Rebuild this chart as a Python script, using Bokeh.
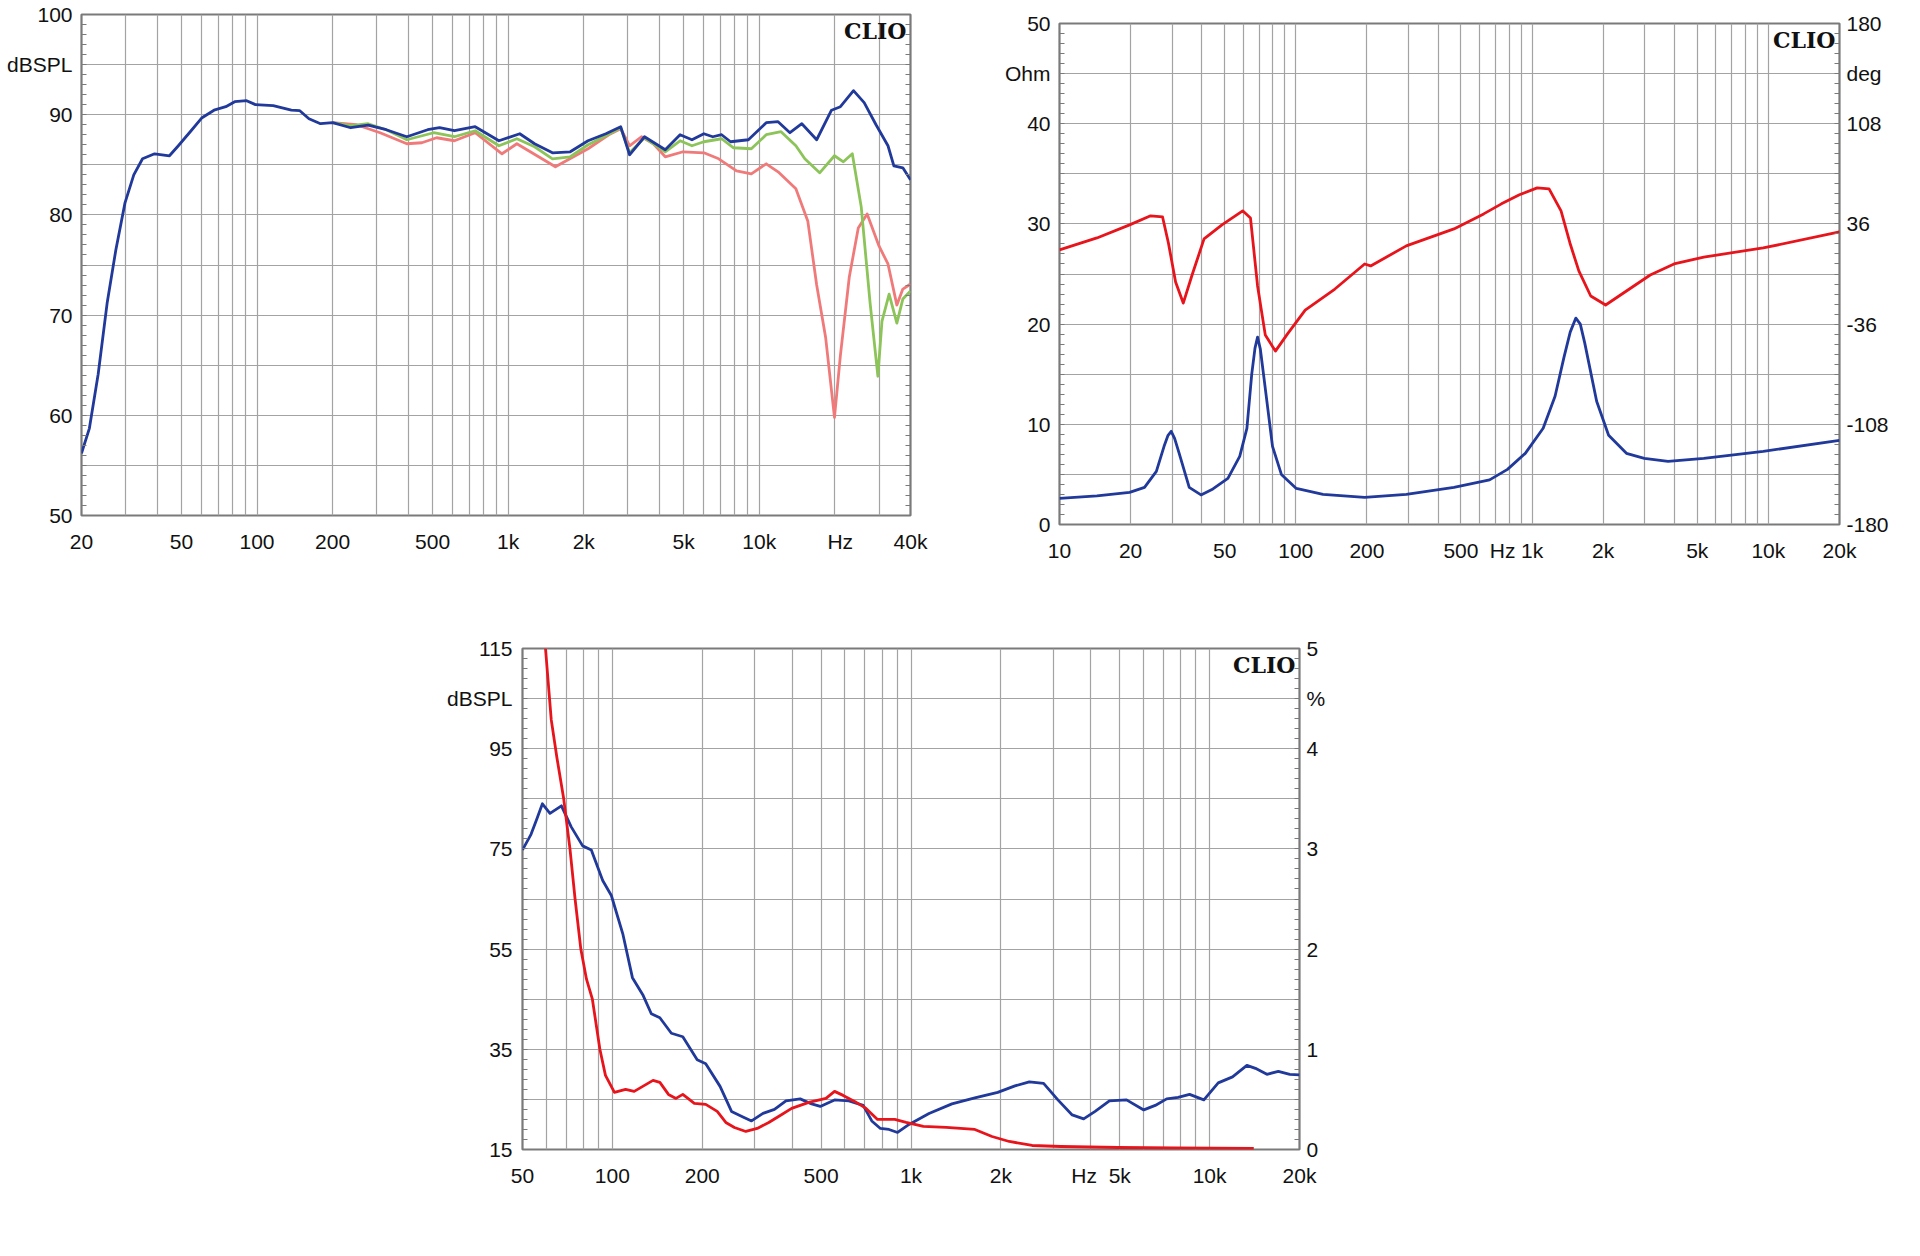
from bokeh.plotting import figure
from bokeh.models import FixedTicker, LinearAxis, Range1d, Label, Spacer
from bokeh.layouts import row, column
from bokeh.embed import file_html
from bokeh.resources import INLINE

# ---------------- data: chart 1 (frequency response, dBSPL) ----------------
f1_blue = [20, 21.5, 23.3, 25.3, 27.4, 29.8, 32.3, 35.0, 39.1, 44.8,
           48.6, 54.2, 60.4, 67.4, 75.1, 81.5, 90.9, 98.6, 116, 137,
           148, 161, 179, 200, 236, 277, 327, 395, 478, 533,
           611, 739, 919, 1112, 1274, 1501, 1767, 2080, 2449, 2806,
           3044, 3490, 4222, 4836, 5394, 6016, 6526, 7080, 7684, 9048,
           10654, 11878, 13244, 14770, 16922, 19388, 21040, 23720, 26160, 29160,
           32540, 34340, 37280, 40000]
spl1_blue = [56.2, 58.7, 64.1, 71.2, 76.5, 81.2, 84.0, 85.6, 86.1, 85.9,
             86.9, 88.3, 89.7, 90.45, 90.8, 91.3, 91.4, 91.0, 90.9, 90.45,
             90.4, 89.6, 89.1, 89.2, 88.7, 88.95, 88.5, 87.8, 88.5, 88.7,
             88.4, 88.8, 87.4, 88.1, 87.1, 86.2, 86.3, 87.4, 88.1, 88.8,
             86.0, 87.8, 86.5, 88.0, 87.5, 88.1, 87.8, 88.0, 87.3, 87.5,
             89.2, 89.3, 88.2, 89.1, 87.5, 90.45, 90.8, 92.4, 91.2, 89.0,
             86.9, 84.9, 84.7, 83.5]

f1_green = [200, 236, 277, 327, 395, 505, 611, 739, 919, 1083,
            1274, 1501, 1767, 2080, 2449, 2806, 3044, 3490, 4222, 4836,
            5394, 6016, 7080, 7896, 9296, 10654, 12206, 13984, 15178, 17390,
            19922, 21620, 23460, 25460, 27620, 29660, 30800, 32880, 35300, 37280,
            40000]
spl1_green = [89.2, 88.9, 89.1, 88.5, 87.5, 88.2, 87.8, 88.4, 86.9, 87.6,
              86.8, 85.6, 85.8, 87.0, 87.9, 88.7, 86.2, 87.7, 86.3, 87.4,
              86.9, 87.3, 87.6, 86.7, 86.6, 88.0, 88.3, 86.9, 85.6, 84.2,
              85.9, 85.3, 86.1, 80.8, 71.2, 63.9, 69.4, 72.1, 69.2, 71.6,
              72.4]

f1_red = [200, 249, 309, 395, 453, 519, 611, 739, 945, 1083,
          1542, 2080, 2516, 2806, 3044, 3394, 3786, 4222, 4970, 6016,
          6890, 8116, 9296, 10654, 11878, 13984, 15596, 16922, 18364, 19922,
          21040, 22820, 24780, 26880, 29960, 32540, 35300, 37280, 40000]
spl1_red = [89.2, 89.0, 88.2, 87.1, 87.2, 87.7, 87.4, 88.2, 86.1, 87.1,
            84.8, 86.6, 88.0, 88.6, 86.9, 87.8, 87.1, 85.8, 86.3, 86.2,
            85.6, 84.4, 84.1, 85.1, 84.3, 82.6, 79.4, 73.0, 67.8, 59.8,
            66.0, 73.8, 78.7, 80.1, 76.9, 75.1, 71.0, 72.6, 73.1]

x1_ticks = [20, 50, 100, 200, 500, 1000, 2000, 5000, 10000, 21000, 40000]
x1_labels = ["20", "50", "100", "200", "500", "1k", "2k", "5k", "10k", "Hz", "40k"]
y1_ticks = [50, 60, 70, 80, 90, 95, 100]
y1_labels = ["50", "60", "70", "80", "90", "dBSPL", "100"]

# ---------------- data: chart 2 (impedance, Ohm / deg) ----------------
f2_mod = [10, 14.4, 19.8, 22.9, 25.7, 27.7, 28.8, 29.7, 30.7, 32.1, 35.4, 39.7,
          44.6, 51.6, 57.9, 62.1, 65.1, 67.2, 68.9, 70.8, 73.0, 79.7, 86.9, 100.5,
          130.4, 195.6, 293.6, 467, 661, 787, 936, 1114, 1251, 1365, 1450,
          1532, 1600, 1671, 1876, 2108, 2508, 2985, 3763, 5329, 9513, 20000]
ohm2_mod = [2.6, 2.85, 3.2, 3.7, 5.3, 7.8, 8.9, 9.3, 8.6, 7.1, 3.7, 2.95,
            3.55, 4.6, 6.8, 9.6, 15.0, 17.6, 18.7, 17.5, 15.0, 7.8, 5.0, 3.6,
            3.0, 2.7, 3.0, 3.7, 4.45, 5.5, 7.1, 9.6, 12.8, 16.7, 19.2,
            20.6, 20.0, 18.1, 12.3, 8.9, 7.1, 6.6, 6.3, 6.6, 7.3, 8.4]

f2_phase = [10, 14.4, 19.8, 24.3, 27.3, 28.9, 31.0, 33.4, 36.4, 40.9,
            48.7, 59.6, 64.3, 68.9, 74.3, 82.0, 92.1, 109.6, 146.4, 195.6,
            207.4, 293.6, 467, 624, 742, 884, 1051, 1180, 1326, 1446,
            1577, 1771, 2048, 2508, 3162, 3988, 5329, 9513, 20000]
deg2_phase = [17.3, 25.9, 35.3, 41.8, 41.0, 22.3, -5.8, -20.9, -0.7, 25.2,
              35.3, 45.4, 40.3, -8.6, -43.9, -55.4, -43.2, -25.9, -10.8, 7.2,
              5.8, 20.2, 32.4, 43.2, 50.4, 56.9, 61.9, 61.2, 45.4, 22.3,
              2.2, -15.8, -22.3, -12.2, -0.7, 7.2, 12.2, 18.7, 30.2]

x2_ticks = [10, 20, 50, 100, 200, 500, 750, 1000, 2000, 5000, 10000, 20000]
x2_labels = ["10", "20", "50", "100", "200", "500", "Hz", "1k", "2k", "5k", "10k", "20k"]
y2_ticks = [0, 10, 20, 30, 40, 45, 50]
y2_labels = ["0", "10", "20", "30", "40", "Ohm", "50"]
y2r_ticks = [-180, -108, -36, 36, 108, 144, 180]
y2r_labels = ["-180", "-108", "-36", "36", "108", "deg", "180"]

# ---------------- data: chart 3 (distortion, dBSPL / %) ----------------
f3_blue = [50, 53.4, 55.8, 58.3, 61.8, 67.5, 72.8, 79.5, 85.0, 92.8,
           99.2, 108.3, 116.7, 126.4, 135.0, 144.2, 157.6, 172.1, 192.3, 205.4,
           229.4, 250.6, 273.7, 292.4, 319.4, 349, 381.2, 425.6, 464.9, 496.7,
           554.6, 619.4, 691.7, 739, 789.8, 843.8, 901.6, 985, 1149, 1371,
           1636, 1952, 2229, 2490, 2780, 3104, 3466, 3786, 4136, 4618,
           5270, 6019, 6575, 7182, 7844, 8568, 9568, 10687, 11935, 13330,
           14238, 15553, 16989, 18559, 20000]
spl3_blue = [74.8, 77.9, 80.9, 84.0, 82.1, 83.6, 79.4, 75.6, 74.8, 68.7,
             65.7, 58.1, 49.3, 45.9, 42.1, 41.3, 38.2, 37.5, 32.9, 32.1,
             27.6, 22.6, 21.5, 20.7, 22.2, 23.0, 24.7, 25.1, 24.1, 23.6,
             24.9, 24.7, 23.8, 20.7, 19.2, 19.0, 18.4, 20.0, 22.2, 24.1,
             25.3, 26.4, 27.7, 28.5, 28.2, 24.9, 21.9, 21.1, 22.6, 24.7,
             24.9, 22.9, 23.8, 25.1, 25.4, 26.0, 24.9, 28.3, 29.5, 31.8,
             31.2, 30.0, 30.6, 30.0, 29.9]

f3_red = [59.7, 62.4, 65.2, 68.7, 72.1, 75.0, 78.4, 81.9, 85.7, 90.8,
          94.8, 101.6, 110.7, 118.3, 126.4, 136.8, 144.2, 154.1, 163.3, 172.1,
          188.1, 205.4, 224.4, 239.8, 256.2, 279.8, 305.6, 333.9, 364.7, 398.4,
          454.7, 519, 554.6, 592.6, 647.4, 707.1, 772.5, 882, 963.3, 1100,
          1312, 1636, 1868, 2133, 2545, 3173, 4934, 7673, 14055]
pct3_red = [5.0, 4.29, 3.91, 3.5, 3.0, 2.5, 2.0, 1.70, 1.5, 1.0,
            0.74, 0.57, 0.60, 0.58, 0.63, 0.69, 0.67, 0.55, 0.51, 0.55,
            0.46, 0.45, 0.38, 0.27, 0.22, 0.18, 0.21, 0.27, 0.34, 0.41,
            0.47, 0.51, 0.58, 0.54, 0.48, 0.41, 0.30, 0.30, 0.27, 0.23,
            0.22, 0.20, 0.13, 0.08, 0.04, 0.03, 0.02, 0.015, 0.01]

x3_ticks = [50, 100, 200, 500, 1000, 2000, 3800, 5000, 10000, 20000]
x3_labels = ["50", "100", "200", "500", "1k", "2k", "Hz", "5k", "10k", "20k"]
y3_ticks = [15, 35, 55, 75, 95, 105, 115]
y3_labels = ["15", "35", "55", "75", "95", "dBSPL", "115"]
y3r_ticks = [0, 1, 2, 3, 4, 4.5, 5]
y3r_labels = ["0", "1", "2", "3", "4", "%", "5"]

# ---------------- styling ----------------
FONT = "Liberation Sans"
FS = "21px"
TXT = "#111111"
GRID = "#a3a3a3"
FRAME = "#7a7a7a"
BLUE = "#20399a"
RED = "#e8141c"
RED_LIGHT = "#f07a7a"
GREEN = "#8cc45a"
LW = 2.8


def log_lines(lo, hi):
    out = []
    d = 1
    while d <= hi:
        for m in range(1, 10):
            v = m * d
            if lo <= v <= hi:
                out.append(v)
        d *= 10
    return out


def steps(lo, hi, st):
    out = []
    v = lo
    while v <= hi + 1e-9:
        out.append(round(v, 4))
        v += st
    return out


def style_axis(ax, standoff):
    ax.axis_line_color = None
    ax.major_tick_line_color = None
    ax.major_tick_in = 0
    ax.major_tick_out = 0
    ax.minor_tick_line_color = FRAME
    ax.minor_tick_line_width = 1
    ax.minor_tick_in = 5
    ax.minor_tick_out = 0
    ax.major_label_text_font = FONT
    ax.major_label_text_font_size = FS
    ax.major_label_text_color = TXT
    ax.major_label_standoff = standoff


def make_fig(xr, yr, fw, fh, L, R, T, B, xt, xl, yt, yl, ygrid_step, yminor, xstand, ystand):
    p = figure(x_axis_type="log", x_range=Range1d(*xr), y_range=Range1d(*yr),
               frame_width=fw, frame_height=fh,
               min_border_left=L, min_border_right=R, min_border_top=T, min_border_bottom=B,
               output_backend="svg", toolbar_location=None)
    p.background_fill_color = "white"
    p.border_fill_color = "white"
    p.outline_line_color = FRAME
    p.outline_line_width = 2.2

    xa = p.xaxis[0]
    xa.ticker = FixedTicker(ticks=xt)
    xa.major_label_overrides = {t: s for t, s in zip(xt, xl)}
    style_axis(xa, xstand)
    xa.minor_tick_line_color = None

    ya = p.yaxis[0]
    ya.ticker = FixedTicker(ticks=yt, minor_ticks=yminor)
    ya.major_label_overrides = {t: s for t, s in zip(yt, yl)}
    style_axis(ya, ystand)

    p.xgrid.ticker = FixedTicker(ticks=log_lines(*xr))
    p.ygrid.ticker = FixedTicker(ticks=steps(yr[0], yr[1], ygrid_step))
    for g in (p.xgrid[0], p.ygrid[0]):
        g.grid_line_color = GRID
        g.grid_line_width = 1.2

    clio = Label(x=xr[1], y=yr[1], x_offset=-4, y_offset=-3, text="CLIO",
                 text_align="right", text_baseline="top",
                 text_font="DejaVu Serif", text_font_style="bold",
                 text_font_size="22px", text_color="#111111")
    p.add_layout(clio)
    return p


# ---------------- chart 1 ----------------
p1 = make_fig((20, 40000), (50, 100), 829, 501, 81, 40, 14, 50,
              x1_ticks, x1_labels, y1_ticks, y1_labels, 5, steps(50, 100, 1), 14, 9)
r1 = LinearAxis(ticker=FixedTicker(ticks=[], minor_ticks=steps(50, 100, 1)))
style_axis(r1, 7)
p1.add_layout(r1, "right")
p1.line(f1_red, spl1_red, line_color=RED_LIGHT, line_width=LW, line_join="round")
p1.line(f1_green, spl1_green, line_color=GREEN, line_width=LW, line_join="round")
p1.line(f1_blue, spl1_blue, line_color=BLUE, line_width=LW, line_join="round")

# ---------------- chart 2 ----------------
p2 = make_fig((10, 20000), (0, 50), 780, 501, 109, 60, 14, 50,
              x2_ticks, x2_labels, y2_ticks, y2_labels, 5, steps(0, 50, 1), 14, 9)
p2.extra_y_ranges = {"deg": Range1d(-180, 180)}
r2 = LinearAxis(y_range_name="deg",
                ticker=FixedTicker(ticks=y2r_ticks, minor_ticks=steps(-180, 180, 7.2)))
r2.major_label_overrides = {t: s for t, s in zip(y2r_ticks, y2r_labels)}
style_axis(r2, 7)
p2.add_layout(r2, "right")
p2.line(f2_phase, deg2_phase, line_color=RED, line_width=LW, y_range_name="deg", line_join="round")
p2.line(f2_mod, ohm2_mod, line_color=BLUE, line_width=LW, line_join="round")

# ---------------- chart 3 ----------------
p3 = make_fig((50, 20000), (15, 115), 777, 501, 80, 60, 74, 50,
              x3_ticks, x3_labels, y3_ticks, y3_labels, 10, steps(15, 115, 2), 14, 10)
p3.extra_y_ranges = {"pct": Range1d(0, 5)}
r3 = LinearAxis(y_range_name="pct",
                ticker=FixedTicker(ticks=y3r_ticks, minor_ticks=steps(0, 5, 0.1)))
r3.major_label_overrides = {t: s for t, s in zip(y3r_ticks, y3r_labels)}
style_axis(r3, 7)
p3.add_layout(r3, "right")
p3.line(f3_blue, spl3_blue, line_color=BLUE, line_width=LW, line_join="round")
p3.line(f3_red, pct3_red, line_color=RED, line_width=LW, y_range_name="pct", line_join="round")

layout = column(
    row(p1, column(Spacer(width=10, height=9), p2)),
    row(Spacer(width=442, height=10), p3),
)

open("out.html", "w").write(file_html(layout, INLINE))
